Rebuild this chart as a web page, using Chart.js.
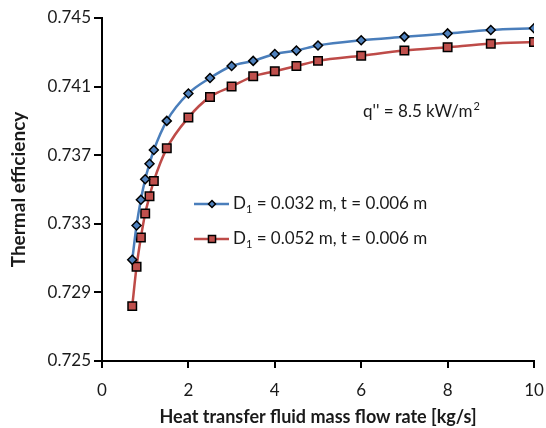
<!DOCTYPE html>
<html>
<head>
<meta charset="utf-8">
<script src="https://cdn.jsdelivr.net/npm/chart.js@4.4.0/dist/chart.umd.min.js"></script>
<style>
  html, body { margin: 0; padding: 0; background: #fff; }
</style>
</head>
<body>
<canvas id="chart" width="546" height="428"></canvas>
<script>
// flow rate in kg/s
const flowRates = [0.7, 0.8, 0.9, 1.0, 1.1, 1.2, 1.5, 2, 2.5, 3, 3.5, 4, 4.5, 5, 6, 7, 8, 9, 10];
const effSmallD = [0.7309, 0.7329, 0.7344, 0.7356, 0.7365, 0.7373, 0.7390, 0.7406, 0.7415, 0.7422, 0.7425, 0.7429, 0.7431, 0.7434, 0.7437, 0.7439, 0.7441, 0.7443, 0.7444];
const effLargeD = [0.7282, 0.7305, 0.7322, 0.7336, 0.7346, 0.7355, 0.7374, 0.7392, 0.7404, 0.7410, 0.7416, 0.7419, 0.7422, 0.7425, 0.7428, 0.7431, 0.7433, 0.7435, 0.7436];
const seriesLabels = ['D₁ = 0.032 m, t = 0.006 m', 'D₁ = 0.052 m, t = 0.006 m'];
const xTicks = [0, 2, 4, 6, 8, 10];
const yTicks = [0.725, 0.729, 0.733, 0.737, 0.741, 0.745];
const noteText = "q'' = 8.5 kW/m";

const FONT = "Lato, 'Open Sans', sans-serif";

const toPoints = ys => flowRates.map((x, i) => ({ x: x, y: ys[i] }));

// legend sitting inside the plot + the heat flux note
const insideLegend = {
  id: 'insideLegend',
  afterDraw(chart) {
    const ctx = chart.ctx;
    const area = chart.chartArea;
    ctx.save();
    ctx.textBaseline = 'middle';
    chart.data.datasets.forEach((ds, i) => {
      const y = area.top + 186 + i * 35;
      const x0 = area.left + 92;
      ctx.strokeStyle = ds.borderColor;
      ctx.lineWidth = 2.5;
      ctx.beginPath();
      ctx.moveTo(x0, y);
      ctx.lineTo(x0 + 35, y);
      ctx.stroke();
      ctx.fillStyle = ds.pointBackgroundColor;
      ctx.strokeStyle = '#000';
      ctx.lineWidth = ds.pointBorderWidth;
      Chart.helpers.drawPoint(ctx, { pointStyle: ds.pointStyle, radius: ds.pointRadius - 1, borderWidth: ds.pointBorderWidth }, x0 + 18, y);

      // label with subscript 1
      const parts = ds.label.split('₁');
      let tx = x0 + 39;
      ctx.fillStyle = '#1a1a1a';
      ctx.font = '17px ' + FONT;
      ctx.fillText(parts[0], tx, y);
      tx += ctx.measureText(parts[0]).width;
      ctx.font = '11px ' + FONT;
      ctx.fillText('1', tx, y + 5);
      tx += ctx.measureText('1').width;
      ctx.font = '17px ' + FONT;
      ctx.fillText(parts[1], tx, y);
    });

    ctx.fillStyle = '#1a1a1a';
    ctx.font = '17px ' + FONT;
    const nx = area.left + 261, ny = area.top + 94;
    ctx.fillText(noteText, nx, ny);
    const w = ctx.measureText(noteText).width;
    ctx.font = '11px ' + FONT;
    ctx.fillText('2', nx + w + 1, ny - 6);
    ctx.restore();
  }
};

const chartConfig = {
  type: 'line',
  data: {
    datasets: [
      {
        label: seriesLabels[0],
        data: toPoints(effSmallD),
        borderColor: '#4a7ebb',
        borderWidth: 2.5,
        pointStyle: 'rectRot',
        pointRadius: 4.5,
        pointBackgroundColor: '#4f81bd',
        pointBorderColor: '#000',
        pointBorderWidth: 1.5,
        cubicInterpolationMode: 'monotone',
        fill: false
      },
      {
        label: seriesLabels[1],
        data: toPoints(effLargeD),
        borderColor: '#be4b48',
        borderWidth: 2.5,
        pointStyle: 'rect',
        pointRadius: 6,
        pointBackgroundColor: '#c0504d',
        pointBorderColor: '#000',
        pointBorderWidth: 1.5,
        cubicInterpolationMode: 'monotone',
        fill: false
      }
    ]
  },
  options: {
    responsive: false,
    animation: false,
    layout: { padding: { left: 0, right: 0, top: 18, bottom: 0 } },
    plugins: { legend: { display: false }, tooltip: { enabled: false } },
    scales: {
      x: {
        type: 'linear',
        min: 0,
        max: 10,
        afterBuildTicks: s => { s.ticks = xTicks.map(v => ({ value: v })); },
        afterFit: s => { s.height = 67; s.paddingLeft = 0; s.paddingRight = 12; },
        grid: { drawOnChartArea: false, tickLength: 7, color: '#000', lineWidth: 2 },
        border: { color: '#000', width: 2 },
        ticks: { color: '#1a1a1a', font: { family: FONT, size: 17 }, padding: 12, maxRotation: 0 },
        title: {
          display: true,
          text: 'Heat transfer fluid mass flow rate [kg/s]',
          color: '#1a1a1a',
          font: { family: FONT, size: 18, weight: 'bold' },
          padding: { top: 0, bottom: 0 }
        }
      },
      y: {
        min: 0.725,
        max: 0.745,
        afterBuildTicks: s => { s.ticks = yTicks.map(v => ({ value: v })); },
        afterFit: s => { s.width = 102; },
        grid: { drawOnChartArea: false, tickLength: 8, color: '#000', lineWidth: 2 },
        border: { color: '#000', width: 2 },
        ticks: { color: '#1a1a1a', font: { family: FONT, size: 17 }, padding: 3, callback: v => v.toFixed(3) },
        title: {
          display: true,
          text: 'Thermal efficiency',
          color: '#1a1a1a',
          font: { family: FONT, size: 19, weight: 'bold' },
          padding: { top: 7, bottom: 0 }
        }
      }
    }
  },
  plugins: [insideLegend]
};

new Chart(document.getElementById('chart'), chartConfig);
</script>
</body>
</html>
